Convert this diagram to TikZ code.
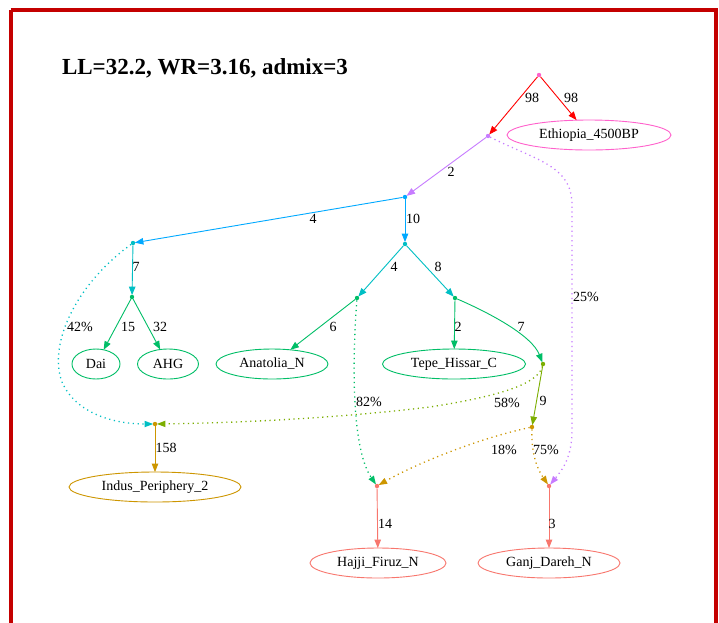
\documentclass[tikz,border=0pt]{standalone}
\usepackage{fontspec}
\setmainfont{Liberation Serif}
\usetikzlibrary{arrows.meta,shapes.geometric}

% node and edge colours
\definecolor{cRed}{HTML}{FF0000}
\definecolor{cPink}{HTML}{FF61CC}
\definecolor{cPurple}{HTML}{C77CFF}
\definecolor{cBlue}{HTML}{00A9FF}
\definecolor{cCyan}{HTML}{00BFC4}
\definecolor{cGreen}{HTML}{00BE67}
\definecolor{cOlive}{HTML}{7CAE00}
\definecolor{cGold}{HTML}{CD9600}
\definecolor{cSalmon}{HTML}{F8766D}
\definecolor{cFrame}{RGB}{196,0,0}

\tikzset{
  junction/.style={circle, fill=#1, draw=none, inner sep=0pt, minimum size=4.4pt},
  leaf/.style={ellipse, draw=#1, line width=0.9pt, inner sep=0pt,
               minimum height=30pt, font=\fontsize{14}{16}\selectfont},
  edgeline/.style={draw=#1, line width=0.9pt, shorten >=-0.5pt,
                   -{Triangle[length=8.5pt,width=6.5pt,fill=#1]}},
  admixline/.style={draw=#1, line width=1.3pt, dash pattern=on 1.2pt off 3.6pt,
                    shorten >=-0.5pt,
                    -{Triangle[length=8.5pt,width=6.5pt,fill=#1,line width=0pt]}},
  lbl/.style={inner sep=0pt, font=\fontsize{14}{16}\selectfont},
}

\begin{document}
\begin{tikzpicture}[x=1pt, y=-1pt]
\useasboundingbox (0,0) rectangle (719,622);
\fill[white] (0,0) rectangle (719,622);

% outer frame
\draw[cFrame, line width=4pt] (10.7,9.5) -- (715.6,9.5) -- (715.6,660)
      (10.7,9.5) -- (10.7,660);

% title
\node[font=\bfseries\fontsize{23}{26}\selectfont, inner sep=0pt] (title) at (205,68)
  {LL=32.2, WR=3.16, admix=3};

% inner junctions
\node[junction=cPink]   (R) at (539,75)  {};
\node[junction=cPurple] (A) at (488,136) {};
\node[junction=cBlue]   (B) at (405,197) {};
\node[junction=cCyan]   (C) at (133,243) {};
\node[junction=cCyan]   (D) at (405,244) {};
\node[junction=cGreen]  (E) at (132,297) {};
\node[junction=cGreen]  (F) at (357,298) {};
\node[junction=cGreen]  (G) at (455,298) {};
\node[junction=cOlive]  (H) at (543,364) {};
\node[junction=cGold]   (I) at (532,427) {};
\node[junction=cGold]   (J) at (155,424) {};
\node[junction=cSalmon] (K) at (377,486) {};
\node[junction=cSalmon] (L) at (549,486) {};

% sampled populations
\node[leaf=cPink,   minimum width=164pt] (eth)   at (589,135) {Ethiopia\_4500BP};
\node[leaf=cGreen,  minimum width=48pt]  (dai)   at (96,364)  {Dai};
\node[leaf=cGreen,  minimum width=61pt]  (ahg)   at (168,364) {AHG};
\node[leaf=cGreen,  minimum width=112pt] (anat)  at (272,364) {Anatolia\_N};
\node[leaf=cGreen,  minimum width=143pt] (tepe)  at (454,364) {Tepe\_Hissar\_C};
\node[leaf=cGold,   minimum width=172pt] (indus) at (155,487) {Indus\_Periphery\_2};
\node[leaf=cSalmon, minimum width=136pt] (hajji) at (378,563) {Hajji\_Firuz\_N};
\node[leaf=cSalmon, minimum width=142pt] (ganj)  at (549,563) {Ganj\_Dareh\_N};

% tree edges
\draw[edgeline=cRed]    (R) -- (A);
\draw[edgeline=cRed]    (R) -- (eth);
\draw[edgeline=cPurple] (A) -- (B);
\draw[edgeline=cBlue]   (B) -- (C);
\draw[edgeline=cBlue]   (B) -- (D);
\draw[edgeline=cCyan]   (C) -- (E);
\draw[edgeline=cGreen]  (E) -- (dai);
\draw[edgeline=cGreen]  (E) -- (ahg);
\draw[edgeline=cCyan]   (D) -- (F);
\draw[edgeline=cCyan]   (D) -- (G);
\draw[edgeline=cGreen]  (F) -- (anat);
\draw[edgeline=cGreen]  (G) -- (tepe);
\draw[edgeline=cGreen]  (G) .. controls (492,314) and (532,336) .. (H);
\draw[edgeline=cOlive]  (H) -- (I);
\draw[edgeline=cGold]   (J) -- (indus);
\draw[edgeline=cSalmon] (K) -- (hajji);
\draw[edgeline=cSalmon] (L) -- (ganj);

% admixture edges
\draw[admixline=cPurple] (A) .. controls (535,160) and (572,165) .. (572,205)
      -- (572,430) .. controls (572,458) and (562,470) .. (L);
\draw[admixline=cCyan] (C) .. controls (75,285) and (48,345) .. (62,382)
      .. controls (76,414) and (115,424) .. (J);
\draw[admixline=cOlive] (H) .. controls (538,384) and (500,396) .. (430,407)
      .. controls (330,419) and (230,423) .. (J);
\draw[admixline=cGreen] (F) .. controls (351,380) and (354,452) .. (K);
\draw[admixline=cGold]  (I) .. controls (472,440) and (412,466) .. (K);
\draw[admixline=cGold]  (I) .. controls (531,455) and (538,470) .. (L);

% edge labels
\node[lbl] (l1)  at (532,98)  {98};
\node[lbl] (l2)  at (571,98)  {98};
\node[lbl] (l3)  at (451,172) {2};
\node[lbl] (l4)  at (313,219) {4};
\node[lbl] (l5)  at (413,219) {10};
\node[lbl] (l6)  at (136,267) {7};
\node[lbl] (l7)  at (394,267) {4};
\node[lbl] (l8)  at (438,267) {8};
\node[lbl] (l9)  at (128,327) {15};
\node[lbl] (l10) at (160,327) {32};
\node[lbl] (l11) at (80,327)  {42\%};
\node[lbl] (l12) at (333,327) {6};
\node[lbl] (l13) at (458,327) {2};
\node[lbl] (l14) at (521,327) {7};
\node[lbl] (l15) at (586,297) {25\%};
\node[lbl] (l16) at (369,402) {82\%};
\node[lbl] (l17) at (507,403) {58\%};
\node[lbl] (l18) at (543,401) {9};
\node[lbl] (l19) at (166,448) {158};
\node[lbl] (l20) at (504,450) {18\%};
\node[lbl] (l21) at (546,450) {75\%};
\node[lbl] (l22) at (385,524) {14};
\node[lbl] (l23) at (552,524) {3};
\end{tikzpicture}
\end{document}
